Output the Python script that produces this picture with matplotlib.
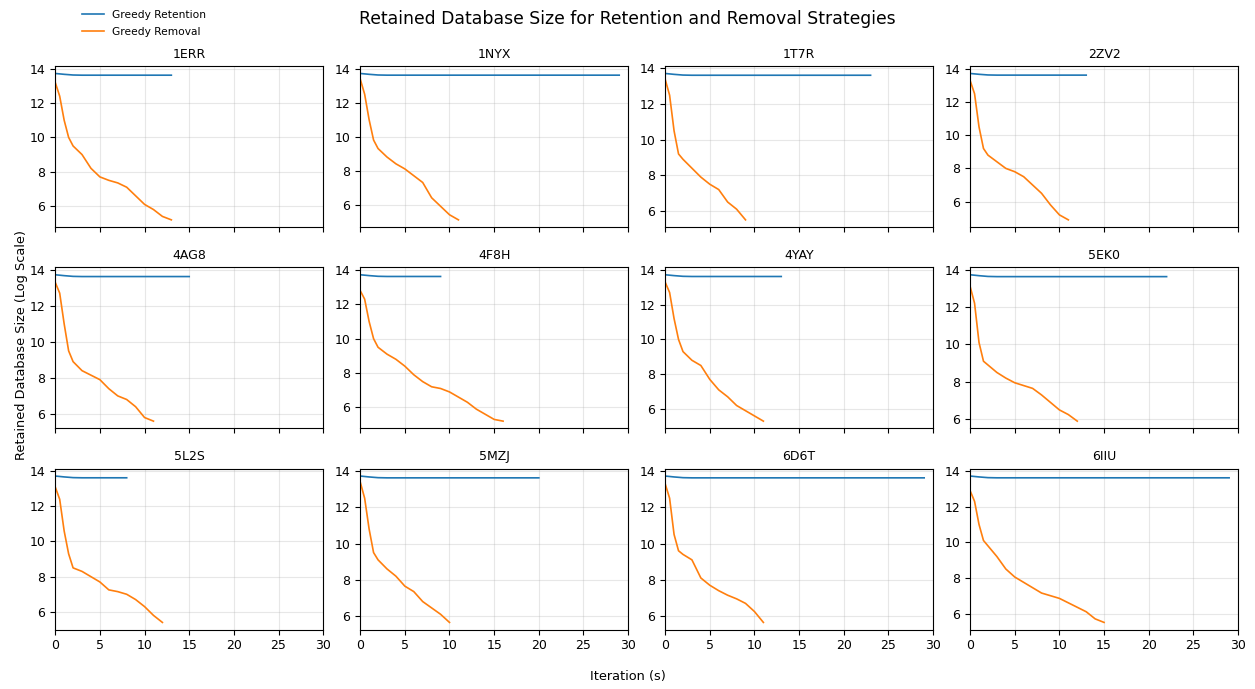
import numpy as np
import matplotlib
matplotlib.use("Agg")
import matplotlib.pyplot as plt

# Protein targets, one panel each
targets = ["1ERR", "1NYX", "1T7R", "2ZV2",
           "4AG8", "4F8H", "4YAY", "5EK0",
           "5L2S", "5MZJ", "6D6T", "6IIU"]

# Greedy retention: iteration count per target, log size per iteration
retention_iters = {
    "1ERR": 13, "1NYX": 29, "1T7R": 23, "2ZV2": 13,
    "4AG8": 15, "4F8H": 9, "4YAY": 13, "5EK0": 22,
    "5L2S": 8, "5MZJ": 20, "6D6T": 29, "6IIU": 29,
}
retention_start = [13.72, 13.67, 13.63]
retention_plateau = 13.62

# Greedy removal: (iteration, log size) samples per target
removal_x = {
    "1ERR": [0, 0.5, 1, 1.5, 2, 3, 4, 5, 6, 7, 8, 9, 10, 11, 12, 13],
    "1NYX": [0, 0.5, 1, 1.5, 2, 3, 4, 5, 6, 7, 8, 9, 10, 11],
    "1T7R": [0, 0.5, 1, 1.5, 2, 3, 4, 5, 6, 7, 8, 9],
    "2ZV2": [0, 0.5, 1, 1.5, 2, 3, 4, 5, 6, 7, 8, 9, 10, 11],
    "4AG8": [0, 0.5, 1, 1.5, 2, 3, 4, 5, 6, 7, 8, 9, 10, 11],
    "4F8H": [0, 0.5, 1, 1.5, 2, 3, 4, 5, 6, 7, 8, 9, 10, 11, 12, 13, 14, 15, 16],
    "4YAY": [0, 0.5, 1, 1.5, 2, 3, 4, 5, 6, 7, 8, 9, 10, 11],
    "5EK0": [0, 0.5, 1, 1.5, 2, 3, 4, 5, 6, 7, 8, 9, 10, 11, 12],
    "5L2S": [0, 0.5, 1, 1.5, 2, 3, 4, 5, 6, 7, 8, 9, 10, 11, 12],
    "5MZJ": [0, 0.5, 1, 1.5, 2, 3, 4, 5, 6, 7, 8, 9, 10],
    "6D6T": [0, 0.5, 1, 1.5, 2, 3, 4, 5, 6, 7, 8, 9, 10, 11],
    "6IIU": [0, 0.5, 1, 1.5, 2, 3, 4, 5, 6, 7, 8, 9, 10, 11, 12, 13, 14, 15],
}
removal_y = {
    "1ERR": [13.2, 12.4, 11.0, 10.0, 9.5, 9.0, 8.2, 7.7, 7.5, 7.35, 7.1, 6.6, 6.1, 5.8, 5.4, 5.2],
    "1NYX": [13.4, 12.5, 11.0, 9.8, 9.3, 8.8, 8.4, 8.1, 7.7, 7.3, 6.4, 5.9, 5.4, 5.1],
    "1T7R": [13.4, 12.5, 10.5, 9.2, 8.9, 8.4, 7.9, 7.5, 7.2, 6.5, 6.1, 5.5],
    "2ZV2": [13.3, 12.5, 10.5, 9.2, 8.8, 8.4, 8.0, 7.8, 7.5, 7.0, 6.5, 5.8, 5.2, 4.9],
    "4AG8": [13.3, 12.7, 11.0, 9.5, 8.9, 8.4, 8.15, 7.9, 7.4, 7.0, 6.8, 6.4, 5.8, 5.6],
    "4F8H": [12.8, 12.3, 11.0, 10.0, 9.5, 9.1, 8.8, 8.4, 7.9, 7.5, 7.2, 7.1, 6.9, 6.6, 6.3, 5.9, 5.6, 5.3, 5.2],
    "4YAY": [13.3, 12.7, 11.2, 10.0, 9.3, 8.8, 8.5, 7.7, 7.1, 6.7, 6.2, 5.9, 5.6, 5.3],
    "5EK0": [13.1, 12.2, 10.1, 9.1, 8.9, 8.5, 8.2, 7.95, 7.8, 7.65, 7.3, 6.9, 6.5, 6.25, 5.9],
    "5L2S": [13.1, 12.4, 10.6, 9.3, 8.5, 8.3, 8.0, 7.7, 7.25, 7.15, 7.0, 6.7, 6.3, 5.8, 5.4],
    "5MZJ": [13.4, 12.5, 10.8, 9.5, 9.1, 8.6, 8.2, 7.65, 7.35, 6.8, 6.45, 6.1, 5.65],
    "6D6T": [13.3, 12.5, 10.5, 9.6, 9.4, 9.1, 8.1, 7.7, 7.4, 7.15, 6.95, 6.7, 6.25, 5.65],
    "6IIU": [12.9, 12.3, 11.0, 10.1, 9.8, 9.2, 8.5, 8.05, 7.75, 7.45, 7.15, 7.0, 6.85, 6.6, 6.35, 6.1, 5.7, 5.5],
}

x_ticks = [0, 5, 10, 15, 20, 25, 30]

fig, axes = plt.subplots(3, 4, figsize=(12.55, 6.89), dpi=100, sharex=True)
fig.subplots_adjust(left=0.044, right=0.9865, top=0.904, bottom=0.086,
                    wspace=0.138, hspace=0.25)

for ax, name in zip(axes.flat, targets):
    n = retention_iters[name]
    ret_x = list(range(n + 1))
    ret_y = retention_start + [retention_plateau] * (n + 1 - len(retention_start))
    ax.plot(ret_x, ret_y, color="#1f77b4", lw=1.2, label="Greedy Retention")
    ax.plot(removal_x[name], removal_y[name], color="#ff7f0e", lw=1.2,
            label="Greedy Removal")
    ax.set_title(name, fontsize=9)
    ax.set_xlim(0, 30)
    ax.set_xticks(x_ticks)
    ax.set_yticks([6, 8, 10, 12, 14])
    ax.grid(True, alpha=0.3)
    ax.tick_params(labelsize=9)

handles, labels = axes[0, 0].get_legend_handles_labels()
fig.legend(handles, labels, loc="upper left", bbox_to_anchor=(0.058, 1.0),
           frameon=False, fontsize=7.7, labelspacing=0.7)
fig.suptitle("Retained Database Size for Retention and Removal Strategies",
             fontsize=12.4, y=0.985)
fig.supylabel("Retained Database Size (Log Scale)", x=0.012, fontsize=9.3)
fig.supxlabel("Iteration (s)", y=0.008, fontsize=9.3)

plt.savefig("out.png", dpi=100)
plt.close()
